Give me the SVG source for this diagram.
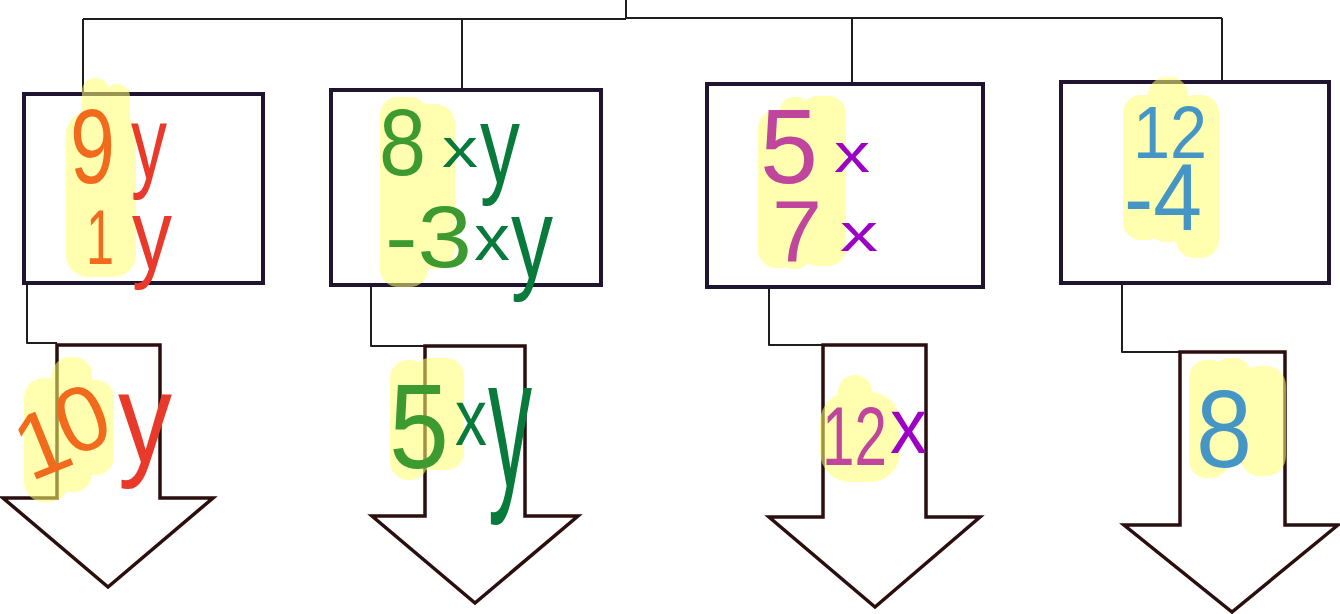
<svg xmlns="http://www.w3.org/2000/svg" width="1340" height="614" viewBox="0 0 1340 614">
<style>
.conn{fill:none;stroke:#1e1e1e;stroke-width:2;stroke-linejoin:round}
.box{fill:none;stroke:#1f1530;stroke-width:4}
.arrow{fill:none;stroke:#2b0e0e;stroke-width:3.5;stroke-linejoin:miter}
.hl{fill:#ffff6e}
.hlg{opacity:0.55}
text{font-family:"Liberation Sans","DejaVu Sans",sans-serif}
.or{fill:#f26b1d}.rd{fill:#e8392a}.lg{fill:#3d9a30}.dg{fill:#087a3c}
.mg{fill:#c0459c}.pu{fill:#9c00c4}.bl{fill:#4596c4}
</style>
<rect width="1340" height="614" fill="#ffffff"/>
<g id="connectors">
<path class="conn" d="M626,0 V18 M83,19 H626 M626,18 H1222 M83,19 V94 M462,20 V90 M852,19 V84 M1222,18 V82"/>
<path class="conn" d="M27,283 V343 H57"/>
<path class="conn" d="M371,285 V346 H425"/>
<path class="conn" d="M769,287 V345 H823"/>
<path class="conn" d="M1122,283 V352 H1180"/>
</g>
<g id="box1">
<rect class="box" x="24" y="94" width="239" height="189"/>
<g class="hlg"><rect class="hl" x="66" y="112" width="70" height="165" rx="22"/><rect class="hl" x="82" y="78" width="27" height="140" rx="13"/><rect class="hl" x="104" y="84" width="26" height="120" rx="13"/></g>
<text><tspan x="70" y="183" font-size="105" textLength="45" lengthAdjust="spacingAndGlyphs" class="or">9</tspan><tspan x="131" y="178" font-size="103" textLength="36" lengthAdjust="spacingAndGlyphs" class="rd">y</tspan><tspan x="86" y="264" font-size="78" textLength="28" lengthAdjust="spacingAndGlyphs" class="or">1</tspan><tspan x="132" y="269" font-size="100" textLength="40" lengthAdjust="spacingAndGlyphs" class="rd">y</tspan></text>
</g>
<g id="box2">
<rect class="box" x="331" y="90" width="270" height="195"/>
<g class="hlg"><rect class="hl" x="380" y="97" width="48" height="190" rx="18"/><rect class="hl" x="400" y="104" width="55" height="165" rx="20"/></g>
<text><tspan x="379" y="175" font-size="95" textLength="47" lengthAdjust="spacingAndGlyphs" class="lg">8</tspan><tspan x="442" y="167" font-size="55" textLength="36" lengthAdjust="spacingAndGlyphs" class="dg">x</tspan><tspan x="480" y="183" font-size="112" textLength="40" lengthAdjust="spacingAndGlyphs" class="dg">y</tspan><tspan x="385" y="267" font-size="87" textLength="87" lengthAdjust="spacingAndGlyphs" class="lg">-3</tspan><tspan x="474" y="260" font-size="64" textLength="36" lengthAdjust="spacingAndGlyphs" class="dg">x</tspan><tspan x="511" y="278" font-size="115" textLength="42" lengthAdjust="spacingAndGlyphs" class="dg">y</tspan></text>
</g>
<g id="box3">
<rect class="box" x="707" y="84" width="276" height="203"/>
<g class="hlg"><rect class="hl" x="758" y="110" width="40" height="158" rx="18"/><rect class="hl" x="780" y="97" width="30" height="172" rx="14"/><rect class="hl" x="800" y="96" width="46" height="170" rx="18"/></g>
<text><tspan x="760" y="183" font-size="105" textLength="58" lengthAdjust="spacingAndGlyphs" class="mg">5</tspan><tspan x="834" y="172" font-size="56" textLength="36" lengthAdjust="spacingAndGlyphs" class="pu">x</tspan><tspan x="772" y="262" font-size="87" textLength="50" lengthAdjust="spacingAndGlyphs" class="mg">7</tspan><tspan x="840" y="251" font-size="54" textLength="38" lengthAdjust="spacingAndGlyphs" class="pu">x</tspan></text>
</g>
<g id="box4">
<rect class="box" x="1061" y="82" width="268" height="201"/>
<g class="hlg"><rect class="hl" x="1123" y="95" width="42" height="145" rx="18"/><rect class="hl" x="1148" y="77" width="40" height="165" rx="18"/><rect class="hl" x="1176" y="95" width="43" height="163" rx="18"/></g>
<text class="bl"><tspan x="1133" y="158" font-size="74" textLength="74" lengthAdjust="spacingAndGlyphs">12</tspan><tspan x="1124" y="230" font-size="95" textLength="78" lengthAdjust="spacingAndGlyphs">-4</tspan></text>
</g>
<g id="arrow1">
<path class="arrow" d="M57,345 H160 V498 H213 L108,587 L3,498 H57 Z"/>
<g class="hlg"><rect class="hl" x="24" y="378" width="45" height="124" rx="20"/><rect class="hl" x="52" y="357" width="40" height="135" rx="18"/><rect class="hl" x="76" y="380" width="38" height="95" rx="18"/></g>
<text><tspan x="30 70" y="482 458" rotate="-22" font-size="92" class="or">10</tspan><tspan x="118" y="462" font-size="128" textLength="54" lengthAdjust="spacingAndGlyphs" class="rd">y</tspan></text>
</g>
<g id="arrow2">
<path class="arrow" d="M425,346 H525 V516 H578 L475,603 L372,516 H425 Z"/>
<g class="hlg"><rect class="hl" x="390" y="360" width="38" height="120" rx="18"/><rect class="hl" x="412" y="358" width="52" height="112" rx="18"/></g>
<text><tspan x="389" y="468" font-size="120" textLength="60" lengthAdjust="spacingAndGlyphs" class="lg">5</tspan><tspan x="455" y="445" font-size="80" textLength="32" lengthAdjust="spacingAndGlyphs" class="dg">x</tspan><tspan x="488" y="486" font-size="185" textLength="44" lengthAdjust="spacingAndGlyphs" class="dg">y</tspan></text>
</g>
<g id="arrow3">
<path class="arrow" d="M823,345 H926 V517 H980 L875,607 L769,517 H823 Z"/>
<g class="hlg"><rect class="hl" x="820" y="392" width="80" height="90" rx="30"/><rect class="hl" x="838" y="375" width="34" height="60" rx="17"/></g>
<text><tspan x="822" y="465" font-size="84" textLength="65" lengthAdjust="spacingAndGlyphs" class="mg">12</tspan><tspan x="890" y="453" font-size="77" textLength="37" lengthAdjust="spacingAndGlyphs" class="pu">x</tspan></text>
</g>
<g id="arrow4">
<path class="arrow" d="M1180,352 H1285 V525 H1338 L1232,612 L1124,525 H1180 Z"/>
<g class="hlg"><rect class="hl" x="1189" y="360" width="40" height="118" rx="18"/><rect class="hl" x="1212" y="358" width="40" height="100" rx="18"/><rect class="hl" x="1240" y="366" width="46" height="110" rx="20"/></g>
<text x="1196" y="467" font-size="109" textLength="56" lengthAdjust="spacingAndGlyphs" class="bl">8</text>
</g>
</svg>
